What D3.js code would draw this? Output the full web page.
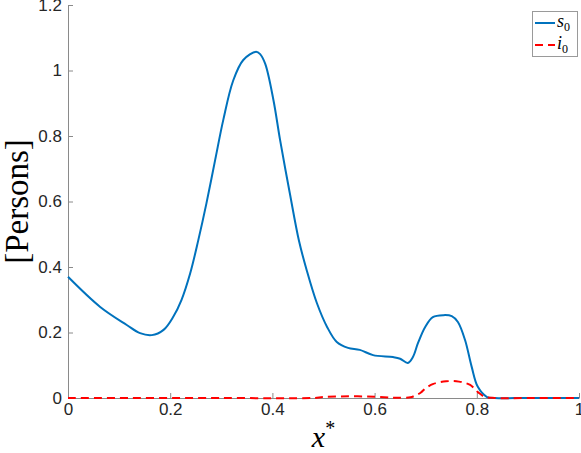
<!DOCTYPE html>
<html>
<head>
<meta charset="utf-8">
<script src="https://cdn.jsdelivr.net/npm/d3@7"></script>
<style>
  body { margin: 0; background: #fff; }
  .tick text { font-family: "Liberation Sans", Arial, sans-serif; font-size: 17px; fill: #262626; }
</style>
</head>
<body>
<div id="chart"></div>
<script>
// data
var xTicks = [0, 0.2, 0.4, 0.6, 0.8, 1];
var yTicks = [0, 0.2, 0.4, 0.6, 0.8, 1, 1.2];

var sX = [0, 0.063, 0.115, 0.141, 0.164, 0.187, 0.206, 0.222, 0.239, 0.255, 0.271, 0.288, 0.304, 0.323, 0.343, 0.368, 0.376, 0.386, 0.402, 0.415, 0.434, 0.452, 0.467, 0.487, 0.507, 0.526, 0.548, 0.571, 0.597, 0.636, 0.65, 0.665, 0.675, 0.685, 0.699, 0.714, 0.735, 0.751, 0.763, 0.777, 0.79, 0.802, 0.82, 0.835, 0.9, 1];
var sVal = [0.37, 0.278, 0.223, 0.198, 0.192, 0.208, 0.248, 0.299, 0.38, 0.482, 0.595, 0.727, 0.85, 0.968, 1.032, 1.057, 1.05, 1.02, 0.91, 0.788, 0.626, 0.48, 0.391, 0.29, 0.217, 0.171, 0.153, 0.147, 0.131, 0.125, 0.12, 0.107, 0.125, 0.168, 0.217, 0.247, 0.253, 0.25, 0.232, 0.177, 0.095, 0.034, 0.003, 0, 0, 0];

var iX = [0, 0.3, 0.48, 0.5, 0.55, 0.6, 0.64, 0.67, 0.68, 0.69, 0.7, 0.715, 0.74, 0.765, 0.787, 0.802, 0.815, 0.835, 0.9, 1];
var iVal = [0, 0, 0, 0.003, 0.005, 0.004, 0.001, 0.002, 0.008, 0.016, 0.03, 0.043, 0.051, 0.05, 0.04, 0.018, 0.004, 0, 0, 0];

var width = 581, height = 453;
var marginLeft = 68, marginTop = 5, marginRight = 2, marginBottom = 55;
var chartWidth = width - marginLeft - marginRight;
var chartHeight = height - marginTop - marginBottom;

var svg = d3.select("#chart").append("svg")
    .attr("width", width)
    .attr("height", height);

var chart = svg.append("g")
    .attr("transform", "translate(" + marginLeft + "," + marginTop + ")");

var xScale = d3.scaleLinear().domain([0, 1]).range([0, chartWidth]);
var yScale = d3.scaleLinear().domain([0, 1.2]).range([chartHeight, 0]);

// axes, MATLAB style ticks pointing inwards
var xAxis = d3.axisBottom(xScale).tickValues(xTicks).tickFormat(d3.format("~g"))
    .tickSizeInner(-5).tickSizeOuter(0).tickPadding(5);
var yAxis = d3.axisLeft(yScale).tickValues(yTicks).tickFormat(d3.format("~g"))
    .tickSizeInner(-5).tickSizeOuter(0).tickPadding(6);

var gx = chart.append("g")
    .attr("transform", "translate(0," + chartHeight + ")")
    .call(xAxis);
var gy = chart.append("g").call(yAxis);

[gx, gy].forEach(function(g) {
    g.attr("font-family", "'Liberation Sans', Arial, sans-serif").attr("font-size", 17);
    g.select(".domain").attr("stroke", "#8a8a8a").attr("stroke-width", 1);
    g.selectAll(".tick line").attr("stroke", "#8a8a8a");
});

// lines
var line = d3.line()
    .x(function(d) { return xScale(d[0]); })
    .y(function(d) { return yScale(d[1]); })
    .curve(d3.curveCatmullRom.alpha(0.5));

chart.append("path")
    .datum(sX.map(function(x, i) { return [x, sVal[i]]; }))
    .attr("fill", "none")
    .attr("stroke", "#0072BD")
    .attr("stroke-width", 2)
    .attr("d", line);

chart.append("path")
    .datum(iX.map(function(x, i) { return [x, iVal[i]]; }))
    .attr("fill", "none")
    .attr("stroke", "#FF0000")
    .attr("stroke-width", 2)
    .attr("stroke-dasharray", "8,5")
    .attr("d", line);

// axis labels
svg.append("text")
    .attr("x", marginLeft + chartWidth / 2)
    .attr("y", 447)
    .attr("text-anchor", "middle")
    .attr("font-family", "'Liberation Serif', 'DejaVu Serif', serif")
    .attr("font-style", "italic")
    .attr("font-size", "30px")
    .attr("fill", "#000")
    .html("x<tspan dy='-12' font-size='20px' font-style='normal'>*</tspan>");

svg.append("text")
    .attr("transform", "translate(28," + (marginTop + chartHeight / 2) + ") rotate(-90)")
    .attr("text-anchor", "middle")
    .attr("font-family", "'Liberation Serif', 'DejaVu Serif', serif")
    .attr("font-size", "33px")
    .attr("fill", "#000")
    .text("[Persons]");

// legend
var legend = svg.append("g");
legend.append("rect")
    .attr("x", 532.5).attr("y", 11.5)
    .attr("width", 45).attr("height", 45)
    .attr("fill", "#fff")
    .attr("stroke", "#9a9a9a")
    .attr("stroke-width", 1);

var items = [
    { name: "s", color: "#0072BD", dash: null, y: 23 },
    { name: "i", color: "#FF0000", dash: "8,5", y: 45 }
];
items.forEach(function(it) {
    legend.append("line")
        .attr("x1", 535).attr("x2", 555)
        .attr("y1", it.y).attr("y2", it.y)
        .attr("stroke", it.color)
        .attr("stroke-width", 2)
        .attr("stroke-dasharray", it.dash);
    legend.append("text")
        .attr("x", 557).attr("y", it.y + 4)
        .attr("font-family", "'Liberation Serif', 'DejaVu Serif', serif")
        .attr("font-style", "italic")
        .attr("font-size", "18px")
        .attr("fill", "#000")
        .html(it.name + "<tspan dy='4' font-size='12px' font-style='normal'>0</tspan>");
});
</script>
</body>
</html>
